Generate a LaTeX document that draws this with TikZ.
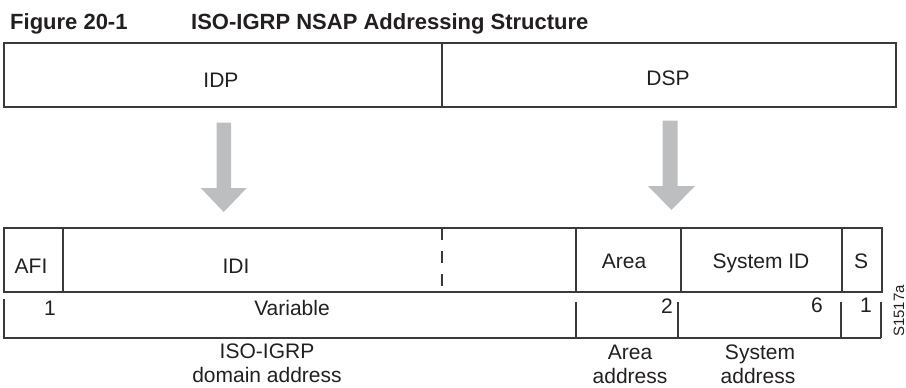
\documentclass[tikz,border=0pt]{standalone}
\usepackage{fontspec}
\setmainfont{Liberation Sans}
\definecolor{ink}{HTML}{231F20}
\definecolor{rule}{HTML}{3A3A3A}
\definecolor{arrowgray}{HTML}{BCBEC0}
\begin{document}
\begin{tikzpicture}[x=1pt,y=-1pt,
  lbl/.style={inner sep=0pt,anchor=base,text=ink,font=\fontsize{21}{25}\selectfont},
  num/.style={inner sep=0pt,anchor=base east,text=ink,font=\fontsize{21}{25}\selectfont},
  ttl/.style={inner sep=0pt,anchor=base west,text=ink,font=\bfseries\fontsize{22}{26}\selectfont},
  frame/.style={draw=rule,line width=1.4pt},
  thin/.style={draw=rule,line width=1.2pt},
  bigarrow/.style={fill=arrowgray,draw=none}]
\useasboundingbox (0,0) rectangle (906,388);
% title
\node[ttl] (fig) at (10,29) {Figure 20-1};
\node[ttl] (title) at (191,29) {ISO-IGRP NSAP Addressing Structure};
% top box
\draw[frame] (4,43) rectangle (896,107);
\draw[frame] (442,43) -- (442,107);
\node[lbl] (idp) at (221,87) {IDP};
\node[lbl] (dsp) at (668,85) {DSP};
% arrows
\fill[bigarrow] (216.7,122.7) -- (231,122.7) -- (231,188) -- (246.7,188) -- (223.7,212) -- (200.7,188) -- (216.7,188) -- cycle;
\fill[bigarrow] (662.7,120.7) -- (677.7,120.7) -- (677.7,186) -- (695,186) -- (671.5,210) -- (648,186) -- (662.7,186) -- cycle;
% upper field row
\draw[thin] (4,228) rectangle (882,292);
\draw[thin] (63,228) -- (63,292);
\draw[thin,dash pattern=on 12pt off 11pt] (442,228) -- (442,292);
\draw[thin] (576,228) -- (576,292);
\draw[thin] (681,228) -- (681,292);
\draw[thin] (842,228) -- (842,292);
\node[lbl] (afi) at (31,273) {AFI};
\node[lbl] (idi) at (236,273) {IDI};
\node[lbl] (area) at (624,268) {Area};
\node[lbl] (sysid) at (761,268) {System ID};
\node[lbl] (s) at (861,268) {S};
% lower length row
\draw[thin] (4,299) -- (4,338) -- (881,338);
\draw[thin] (576,302) -- (576,338);
\draw[thin] (678,302) -- (678,338);
\draw[thin] (841,302) -- (841,338);
\draw[thin] (881,302) -- (881,338);
\node[lbl] (n1) at (50,315) {1};
\node[lbl] (var) at (292,315) {Variable};
\node[num] (n2) at (673,313) {2};
\node[num] (n6) at (823,312) {6};
\node[num] (n1b) at (872,312) {1};
% bottom captions
\node[lbl,align=center,anchor=base] (dom) at (267,358) {ISO-IGRP};
\node[lbl,anchor=base] (dom2) at (267,382) {domain address};
\node[lbl,anchor=base] (aa) at (630,359) {Area};
\node[lbl,anchor=base] (aa2) at (630,383) {address};
\node[lbl,anchor=base] (sa) at (760,359) {System};
\node[lbl,anchor=base] (sa2) at (758,383) {address};
% figure id
\node[inner sep=0pt,anchor=base,rotate=90,text=ink,font=\fontsize{15}{18}\selectfont] (sid) at (904,311) {S1517a};
\end{tikzpicture}
\end{document}
